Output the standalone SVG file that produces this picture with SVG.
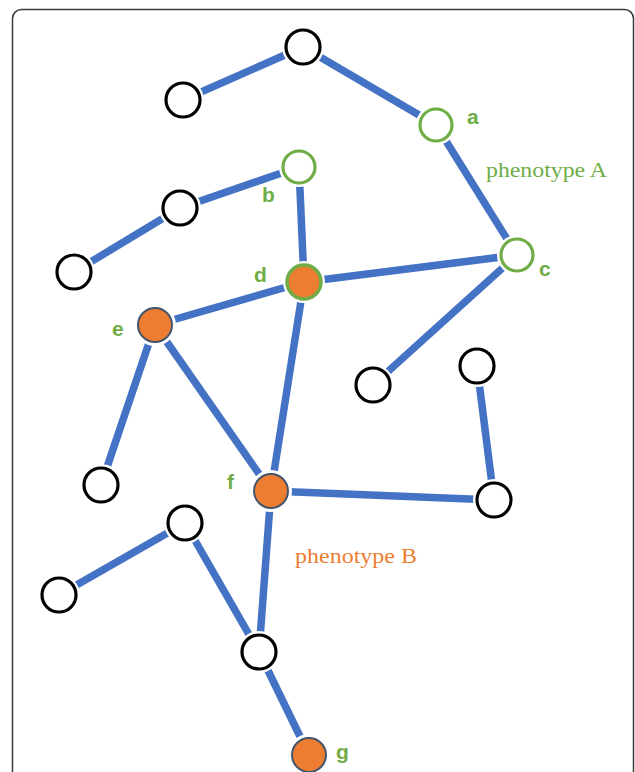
<svg xmlns="http://www.w3.org/2000/svg" width="635" height="772" viewBox="0 0 635 772">
  <style>
    .frame { fill: #ffffff; stroke: #3a3a3a; stroke-width: 1.5; }
    .edge { stroke: #4472C4; stroke-width: 7.5; stroke-linecap: butt; fill: none; }
    .halo { fill: #ffffff; stroke: none; }
    .plain { fill: #ffffff; stroke: #000000; stroke-width: 3.2; }
    .green { fill: #ffffff; stroke: #70AD47; stroke-width: 3.2; }
    .hitG { fill: #ED7D31; stroke: #70AD47; stroke-width: 3.5; }
    .hit { fill: #ED7D31; stroke: #44546A; stroke-width: 2; }
    .lbl { font-family: "Liberation Sans", Arial, sans-serif; font-size: 21px; font-weight: bold; fill: #70AD47; }
    .pheno { font-family: "Liberation Serif", "Times New Roman", serif; font-size: 21px; }
  </style>

  <rect class="frame" x="12.5" y="9.5" width="621" height="800" rx="9"/>

  <!-- connectors -->
  <g id="edges">
    <line class="edge" x1="183" y1="100" x2="303" y2="47"/>
    <line class="edge" x1="303" y1="47" x2="436" y2="125"/>
    <line class="edge" x1="436" y1="125" x2="517" y2="255"/>
    <line class="edge" x1="180" y1="208" x2="299" y2="167"/>
    <line class="edge" x1="74" y1="272" x2="180" y2="208"/>
    <line class="edge" x1="299" y1="167" x2="304" y2="282"/>
    <line class="edge" x1="304" y1="282" x2="517" y2="255"/>
    <line class="edge" x1="155" y1="325" x2="304" y2="282"/>
    <line class="edge" x1="517" y1="255" x2="373" y2="385"/>
    <line class="edge" x1="155" y1="325" x2="101" y2="485"/>
    <line class="edge" x1="155" y1="325" x2="271" y2="491"/>
    <line class="edge" x1="304" y1="282" x2="271" y2="491"/>
    <line class="edge" x1="271" y1="491" x2="494" y2="500"/>
    <line class="edge" x1="477" y1="366" x2="494" y2="500"/>
    <line class="edge" x1="271" y1="491" x2="259" y2="652"/>
    <line class="edge" x1="185" y1="523" x2="259" y2="652"/>
    <line class="edge" x1="59" y1="595" x2="185" y2="523"/>
    <line class="edge" x1="259" y1="652" x2="309" y2="755"/>
  </g>

  <!-- nodes: white halo gives the small gap where edges meet a node -->
  <g id="n-top"><circle class="halo" cx="303" cy="47" r="21"/><circle class="plain" cx="303" cy="47" r="17"/></g>
  <g id="n-upper-left"><circle class="halo" cx="183" cy="100" r="21"/><circle class="plain" cx="183" cy="100" r="17"/></g>
  <g id="node-a"><circle class="halo" cx="436" cy="125" r="20"/><circle class="green" cx="436" cy="125" r="16"/><text class="lbl" x="467" y="124">a</text></g>
  <g id="node-b"><circle class="halo" cx="299" cy="167" r="20"/><circle class="green" cx="299" cy="167" r="16"/><text class="lbl" x="262" y="202">b</text></g>
  <g id="n-left-mid"><circle class="halo" cx="180" cy="208" r="21"/><circle class="plain" cx="180" cy="208" r="17"/></g>
  <g id="n-far-left"><circle class="halo" cx="74" cy="272" r="21"/><circle class="plain" cx="74" cy="272" r="17"/></g>
  <g id="node-c"><circle class="halo" cx="517" cy="255" r="20"/><circle class="green" cx="517" cy="255" r="16"/><text class="lbl" x="539" y="276">c</text></g>
  <g id="node-d"><circle class="halo" cx="304" cy="282" r="21"/><circle class="hitG" cx="304" cy="282" r="17"/><text class="lbl" x="254" y="282">d</text></g>
  <g id="node-e"><circle class="halo" cx="155" cy="325" r="21"/><circle class="hit" cx="155" cy="325" r="17"/><text class="lbl" x="112" y="336">e</text></g>
  <g id="n-mid"><circle class="halo" cx="373" cy="385" r="21"/><circle class="plain" cx="373" cy="385" r="17"/></g>
  <g id="n-right-top"><circle class="halo" cx="477" cy="366" r="21"/><circle class="plain" cx="477" cy="366" r="17"/></g>
  <g id="n-left-low"><circle class="halo" cx="101" cy="485" r="21"/><circle class="plain" cx="101" cy="485" r="17"/></g>
  <g id="node-f"><circle class="halo" cx="271" cy="491" r="21"/><circle class="hit" cx="271" cy="491" r="17"/><text class="lbl" x="227" y="489">f</text></g>
  <g id="n-right-low"><circle class="halo" cx="494" cy="500" r="21"/><circle class="plain" cx="494" cy="500" r="17"/></g>
  <g id="n-lower-mid"><circle class="halo" cx="185" cy="523" r="21"/><circle class="plain" cx="185" cy="523" r="17"/></g>
  <g id="n-bottom-left"><circle class="halo" cx="59" cy="595" r="21"/><circle class="plain" cx="59" cy="595" r="17"/></g>
  <g id="n-bottom"><circle class="halo" cx="259" cy="652" r="21"/><circle class="plain" cx="259" cy="652" r="17"/></g>
  <g id="node-g"><circle class="halo" cx="309" cy="755" r="21"/><circle class="hit" cx="309" cy="755" r="17"/><text class="lbl" x="336" y="759">g</text></g>

  <!-- phenotype captions -->
  <text class="pheno" x="486" y="177" fill="#70AD47" textLength="121" lengthAdjust="spacingAndGlyphs">phenotype A</text>
  <text class="pheno" x="295" y="563" fill="#ED7D31" textLength="122" lengthAdjust="spacingAndGlyphs">phenotype B</text>
</svg>
